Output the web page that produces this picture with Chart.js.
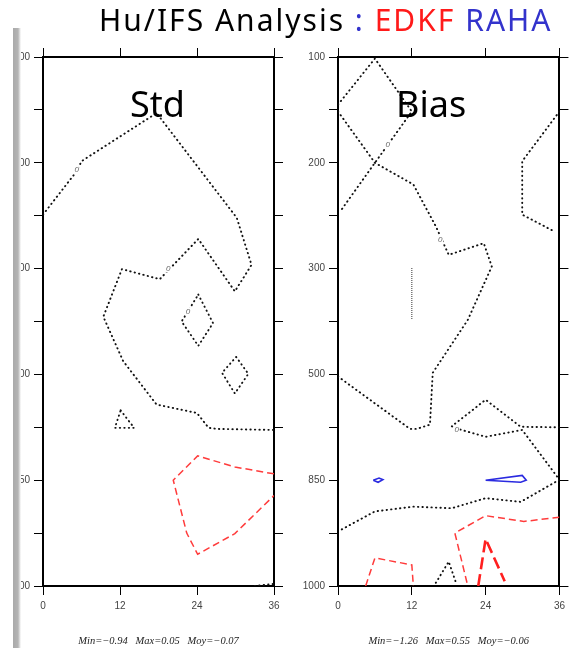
<!DOCTYPE html>
<html>
<head>
<meta charset="utf-8">
<title>Hu/IFS Analysis</title>
<script src="https://cdn.jsdelivr.net/npm/chart.js@4.4.1/dist/chart.umd.min.js"></script>
<style>
  body { margin: 0; width: 570px; height: 648px; background: #fff; position: relative; overflow: hidden; font-family: "Noto Sans", sans-serif; }
  .panel { position: absolute; top: 0; height: 648px; }
  #stdBox { left: 0; width: 290px; }
  #biasBox { left: 290px; width: 280px; }
  #title { position: absolute; left: 99px; top: 5px; font-size: 30px; line-height: 30px; letter-spacing: 2px; white-space: nowrap; color: #000; }
  #title .red { color: #ff1a1a; }
  #title .blue { color: #3333cc; }
  .tag { position: absolute; font-size: 36px; line-height: 36px; color: #000; }
  #edge { position: absolute; left: 0; top: 28px; width: 13px; height: 620px; background: #fff; }
  #bar { position: absolute; left: 13px; top: 28px; width: 8px; height: 620px; background: linear-gradient(to right, #aaa 0, #b4b4b4 5px, #fff 8px); }
</style>
</head>
<body>
<div id="stdBox" class="panel"><canvas id="stdChart"></canvas></div>
<div id="biasBox" class="panel"><canvas id="biasChart"></canvas></div>
<div id="title">Hu/IFS Analysis <span class="blue">:</span> <span class="red">EDKF</span> <span class="blue">RAHA</span></div>
<div class="tag" style="left:130px; top:86px;">Std</div>
<div class="tag" style="left:396px; top:86px;">Bias</div>
<div id="edge"></div>
<div id="bar"></div>
<script>
// pressure levels (hPa), one per row of the analysis grid
const levels = ["100", "150", "200", "250", "300", "400", "500", "700", "850", "925", "1000"];
const hours = [0, 12, 24, 36];

// Std panel contours: [forecast hour, level index]
const stdZeroA = [[0, 2.98], [5.25, 2.16], [6.0, 1.97], [17.7, 1.06], [30.2, 3.04], [32.5, 3.93], [29.9, 4.43], [24.2, 3.44], [18.2, 4.2], [12.3, 4.01], [9.4, 4.91], [12.5, 5.75], [17.7, 6.57], [24.0, 6.73], [25.8, 7.01], [27.1, 7.03], [36, 7.05]];
const stdZeroDiamond1 = [[24.2, 4.49], [26.5, 5.03], [24.2, 5.46], [21.6, 5.0], [24.2, 4.49]];
const stdZeroDiamond2 = [[30.1, 5.67], [32.0, 5.99], [29.9, 6.36], [27.9, 5.97], [30.1, 5.67]];
const stdZeroTriangle = [[12.1, 6.68], [14.2, 7.01], [11.2, 7.01], [12.1, 6.68]];
const stdZeroCorner = [[33.0, 10], [36, 9.96]];
const stdNeg = [[36, 7.88], [29.9, 7.75], [24.1, 7.54], [20.3, 8.0], [22.4, 9.0], [24.1, 9.4], [29.9, 9.01], [36, 8.29]];
const stdZeroLabels = [[5.25, 2.14], [19.5, 4.0], [22.6, 4.81]];

// Bias panel contours
const biasZeroA = [[0, 0.9], [6, 0.03], [12, 1.03], [6, 2.0], [0.3, 2.93]];
const biasZeroB = [[0, 1.03], [6, 2.0], [12.25, 2.41], [15.9, 3.2], [18.0, 3.74], [23.7, 3.52], [25.0, 3.96], [21.1, 4.97], [15.4, 5.97], [14.95, 6.95], [12.8, 7.03], [11.7, 7.03], [0, 6.04]];
const biasZeroRight = [[36, 1.03], [29.95, 1.97], [29.95, 2.98], [35.2, 3.3]];
const biasZeroStick = [[12, 3.99], [12, 4.97]];
const biasZeroC = [[36, 7.0], [29.7, 6.99], [24.0, 6.48], [18.5, 6.98], [19.5, 7.03], [24.0, 7.18], [29.95, 7.05], [36, 7.99], [29.7, 8.41], [24.0, 8.34], [18.5, 8.53], [12.25, 8.5], [6.0, 8.59], [0.3, 8.95]];
const biasZeroSmall = [[15.9, 9.94], [18.0, 9.54], [19.1, 9.91]];
const biasPos1 = [[5.73, 8.0], [6.67, 7.96], [7.3, 7.99], [6.52, 8.04], [5.73, 8.0]];
const biasPos2 = [[24.0, 8.0], [29.95, 7.91], [30.6, 8.0], [29.7, 8.04], [24.0, 8.0]];
const biasNegA = [[36, 8.7], [30.2, 8.78], [24.0, 8.67], [19.0, 9.0], [21.1, 10]];
const biasNegB = [[4.5, 10], [6.0, 9.47], [12.0, 9.6], [12.25, 10]];
const biasNegStrong = [[22.8, 10], [24.0, 9.11], [27.1, 9.91]];
const biasZeroLabels = [[8.1, 1.66], [16.6, 3.45], [19.3, 7.04]];

const dotted = { borderColor: "#111", borderWidth: 1.9, borderDash: [0.4, 4.1], borderCapStyle: "round" };
const fineDots = { borderColor: "#555", borderWidth: 1.2, borderDash: [1, 1] };
const dashed = { borderColor: "#ff3b3b", borderWidth: 1.5, borderDash: [7, 4] };
const heavyDash = { borderColor: "#ff1f1f", borderWidth: 2.6, borderDash: [12, 5] };
const solidBlue = { borderColor: "#2a2ae0", borderWidth: 1.6 };

function contour(points, style) {
  return Object.assign({
    data: points.map(([x, y]) => ({ x: x, y: y })),
    pointRadius: 0,
    fill: false,
    tension: 0,
  }, style);
}

// writes the small "0" isoline values along the dotted lines
const contourLabels = {
  id: "contourLabels",
  afterDatasetsDraw(chart, args, opts) {
    const { ctx } = chart;
    const xs = chart.scales.x, ys = chart.scales.y;
    ctx.save();
    ctx.font = 'italic 8px "Liberation Sans"';
    ctx.textAlign = "center";
    ctx.textBaseline = "middle";
    (opts.points || []).forEach(([vx, vy]) => {
      const px = xs.getPixelForValue(vx), py = ys.getPixelForValue(vy);
      ctx.fillStyle = "#fff";
      ctx.fillRect(px - 3, py - 4, 6, 8);
      ctx.fillStyle = "#666";
      ctx.fillText("0", px, py);
    });
    ctx.restore();
  },
};

function buildScales(leftWidth, rightWidth, footer) {
  const border = { color: "#000", width: 2 };
  const grid = { drawOnChartArea: false, drawTicks: true, tickLength: 9, tickColor: "#000", lineWidth: 1 };
  const tickFont = { family: "Liberation Sans", size: 10 };
  return {
    x: {
      type: "linear", position: "bottom", min: 0, max: 36,
      afterBuildTicks: (s) => { s.ticks = hours.map((h) => ({ value: h })); },
      ticks: { color: "#444", font: tickFont, padding: 5 },
      grid: grid, border: border,
      title: { display: true, text: footer, color: "#222", padding: 0, font: { family: "Liberation Serif", style: "italic", size: 10.5 } },
      afterFit: (s) => { s.height = 62; },
    },
    x2: {
      type: "linear", position: "top", min: 0, max: 36,
      afterBuildTicks: (s) => { s.ticks = hours.map((h) => ({ value: h })); },
      ticks: { display: false },
      grid: grid, border: border,
      afterFit: (s) => { s.height = 57; },
    },
    y: {
      type: "linear", position: "left", reverse: true, min: 0, max: 10,
      ticks: { stepSize: 1, color: "#444", font: tickFont, padding: 4, autoSkip: false,
        callback: (v) => (v % 2 === 0 ? levels[v] : "") },
      grid: grid, border: border,
      afterFit: (s) => { s.width = leftWidth; },
    },
    y2: {
      type: "linear", position: "right", reverse: true, min: 0, max: 10,
      ticks: { stepSize: 1, display: false },
      grid: grid, border: border,
      afterFit: (s) => { s.width = rightWidth; },
    },
  };
}

function makeChart(id, datasets, labels, leftWidth, rightWidth, footer) {
  return new Chart(document.getElementById(id), {
    type: "line",
    data: { datasets: datasets },
    options: {
      responsive: true,
      maintainAspectRatio: false,
      animation: false,
      layout: { padding: 0 },
      plugins: { legend: { display: false }, tooltip: { enabled: false }, contourLabels: { points: labels } },
      scales: buildScales(leftWidth, rightWidth, footer),
    },
    plugins: [contourLabels],
  });
}

makeChart("stdChart", [
  contour(stdZeroA, dotted),
  contour(stdZeroDiamond1, dotted),
  contour(stdZeroDiamond2, dotted),
  contour(stdZeroTriangle, dotted),
  contour(stdZeroCorner, dotted),
  contour(stdNeg, dashed),
], stdZeroLabels, 43, 16, "Min=\u22120.94   Max=0.05   Moy=\u22120.07");

makeChart("biasChart", [
  contour(biasZeroA, dotted),
  contour(biasZeroB, dotted),
  contour(biasZeroRight, dotted),
  contour(biasZeroStick, fineDots),
  contour(biasZeroC, dotted),
  contour(biasZeroSmall, dotted),
  contour(biasPos1, solidBlue),
  contour(biasPos2, solidBlue),
  contour(biasNegA, dashed),
  contour(biasNegB, dashed),
  contour(biasNegStrong, heavyDash),
], biasZeroLabels, 48, 1.5, "Min=\u22121.26   Max=0.55   Moy=\u22120.06");
</script>
</body>
</html>
